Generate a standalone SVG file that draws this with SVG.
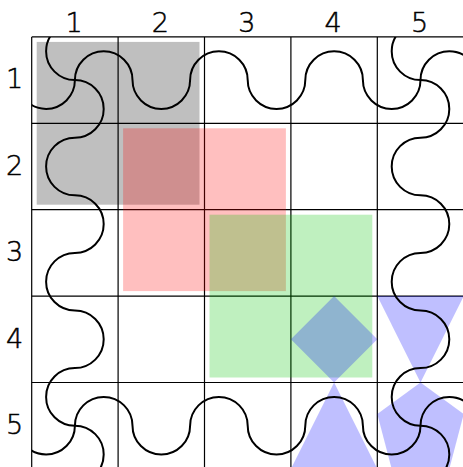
<svg xmlns="http://www.w3.org/2000/svg" width="463" height="467" viewBox="0 0 463 467">
  <defs>
    <style>
      .lbl { font-family: "DejaVu Sans", sans-serif; font-weight: 200; font-size: 27px; fill: #000; stroke: #000; stroke-width: 0.5; text-anchor: middle; }
      .grid { stroke: #000; stroke-width: 1.2; fill: none; }
      .wave { stroke: #000; stroke-width: 2; fill: none; }
      .gray { fill: #000; fill-opacity: 0.25; }
      .red { fill: #ff0000; fill-opacity: 0.25; }
      .green { fill: #00c400; fill-opacity: 0.25; }
      .blue { fill: #0000ff; fill-opacity: 0.25; }
    </style>
    <clipPath id="gridclip">
      <rect x="31.7" y="36.9" width="440" height="440"/>
    </clipPath>
  </defs>
  <rect width="463" height="467" fill="#fff"/>

  <g id="labels">
    <text class="lbl" x="74" y="31.7">1</text>
    <text class="lbl" x="160.4" y="31.7">2</text>
    <text class="lbl" x="246.8" y="31.7">3</text>
    <text class="lbl" x="333.2" y="31.7">4</text>
    <text class="lbl" x="419.6" y="31.7">5</text>
    <text class="lbl" x="14.5" y="88.3">1</text>
    <text class="lbl" x="14.5" y="174.7">2</text>
    <text class="lbl" x="14.5" y="261.1">3</text>
    <text class="lbl" x="14.5" y="347.5">4</text>
    <text class="lbl" x="14.5" y="433.9">5</text>
  </g>

  <g id="grid" class="grid">
    <path d="M31.7 36.9V467M118.1 36.9V467M204.5 36.9V467M290.9 36.9V467M377.3 36.9V467"/>
    <path d="M31.7 36.9H463M31.7 123.3H463M31.7 209.7H463M31.7 296.1H463M31.7 382.5H463"/>
  </g>

  <g id="rect-gray"><rect class="gray" x="36.7" y="41.9" width="162.8" height="162.8"/></g>
  <g id="rect-red"><rect class="red" x="123.1" y="128.3" width="162.8" height="162.8"/></g>
  <g id="rect-green"><rect class="green" x="209.5" y="214.7" width="162.8" height="162.8"/></g>
  <g id="diamond"><polygon class="blue" points="334.1,296.1 377.3,339.3 334.1,382.5 290.9,339.3"/></g>
  <g id="triangle-down"><polygon class="blue" points="377.3,296.1 463.7,296.1 420.5,382.5"/></g>
  <g id="triangle-up"><polygon class="blue" points="334.1,382.5 377.3,468.9 290.9,468.9"/></g>
  <g id="pentagon"><polygon class="blue" points="420.5,382.5 463.7,414 448.5,472 392.5,472 377.3,414"/></g>

  <g id="connectors" class="wave" clip-path="url(#gridclip)">
    <path d="M17.3 80.1a28.8 28.8 0 0 0 57.6 0a28.8 28.8 0 0 1 57.6 0a28.8 28.8 0 0 0 57.6 0a28.8 28.8 0 0 1 57.6 0a28.8 28.8 0 0 0 57.6 0a28.8 28.8 0 0 1 57.6 0a28.8 28.8 0 0 0 57.6 0a28.8 28.8 0 0 1 57.6 0"/>
    <path d="M17.3 425.7a28.8 28.8 0 0 0 57.6 0a28.8 28.8 0 0 1 57.6 0a28.8 28.8 0 0 0 57.6 0a28.8 28.8 0 0 1 57.6 0a28.8 28.8 0 0 0 57.6 0a28.8 28.8 0 0 1 57.6 0a28.8 28.8 0 0 0 57.6 0a28.8 28.8 0 0 1 57.6 0"/>
    <path d="M74.9 22.5a28.8 28.8 0 0 0 0 57.6a28.8 28.8 0 0 1 0 57.6a28.8 28.8 0 0 0 0 57.6a28.8 28.8 0 0 1 0 57.6a28.8 28.8 0 0 0 0 57.6a28.8 28.8 0 0 1 0 57.6a28.8 28.8 0 0 0 0 57.6a28.8 28.8 0 0 1 0 57.6"/>
    <path d="M420.5 22.5a28.8 28.8 0 0 0 0 57.6a28.8 28.8 0 0 1 0 57.6a28.8 28.8 0 0 0 0 57.6a28.8 28.8 0 0 1 0 57.6a28.8 28.8 0 0 0 0 57.6a28.8 28.8 0 0 1 0 57.6a28.8 28.8 0 0 0 0 57.6a28.8 28.8 0 0 1 0 57.6"/>
  </g>
</svg>
